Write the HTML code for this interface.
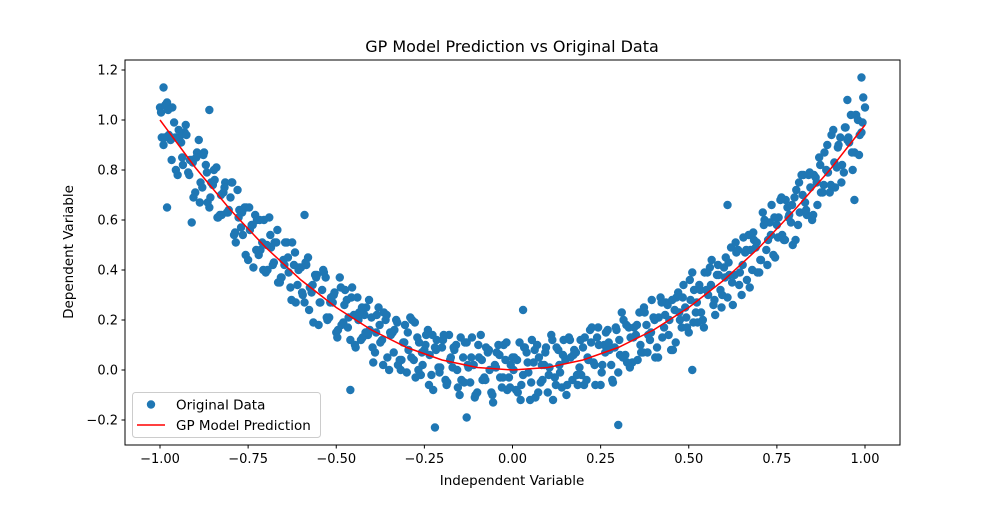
<!DOCTYPE html>
<html><head><meta charset="utf-8"><style>
body{margin:0;background:#fff;position:relative;width:1000px;height:500px;overflow:hidden}
svg text{font-family:"DejaVu Sans","Liberation Sans",sans-serif;fill:#000}
</style></head><body>
<svg id="chart" width="1000" height="500" xmlns="http://www.w3.org/2000/svg">
<rect width="1000" height="500" fill="#fff"/>
<g id="plot"></g>
<g id="axes"></g>
</svg>
<script>
const xTicks=[-1.00,-0.75,-0.50,-0.25,0.00,0.25,0.50,0.75,1.00];
const xTickLabels=["\u22121.00","\u22120.75","\u22120.50","\u22120.25","0.00","0.25","0.50","0.75","1.00"];
const yTicks=[-0.2,0.0,0.2,0.4,0.6,0.8,1.0,1.2];
const yTickLabels=["\u22120.2","0.0","0.2","0.4","0.6","0.8","1.0","1.2"];
const dataA=[[-1.00,1.05],[-0.99,0.90],[-0.98,1.07],[-0.97,0.92],[-0.96,0.99],[-0.95,0.78],[-0.94,0.91],[-0.93,0.95],[-0.92,0.79],[-0.91,0.84],[-0.90,0.71],[-0.89,0.92],[-0.88,0.73],[-0.87,0.82],[-0.86,0.65],[-0.85,0.74],[-0.84,0.81],[-0.83,0.62],[-0.82,0.71],[-0.81,0.63],[-0.80,0.69],[-0.79,0.54],[-0.78,0.72],[-0.77,0.57],[-0.76,0.65],[-0.75,0.44],[-0.74,0.58],[-0.73,0.62],[-0.72,0.46],[-0.71,0.51],[-0.70,0.39],[-0.69,0.61],[-0.68,0.42],[-0.67,0.51],[-0.66,0.35],[-0.65,0.44],[-0.64,0.51],[-0.63,0.33],[-0.62,0.42],[-0.61,0.34],[-0.60,0.41],[-0.59,0.27],[-0.58,0.45],[-0.57,0.31],[-0.56,0.38],[-0.55,0.18],[-0.54,0.32],[-0.53,0.37],[-0.52,0.21],[-0.51,0.27],[-0.50,0.15],[-0.49,0.37],[-0.48,0.19],[-0.47,0.28],[-0.46,0.12],[-0.45,0.22],[-0.44,0.29],[-0.43,0.12],[-0.42,0.22],[-0.41,0.14],[-0.40,0.21],[-0.39,0.07],[-0.38,0.25],[-0.37,0.12],[-0.36,0.20],[-0.35,0.00],[-0.34,0.15],[-0.33,0.20],[-0.32,0.04],[-0.31,0.11],[-0.30,-0.01],[-0.29,0.21],[-0.28,0.04],[-0.27,0.13],[-0.26,-0.02],[-0.25,0.08],[-0.24,0.16],[-0.23,-0.02],[-0.22,0.09],[-0.21,0.01],[-0.20,0.09],[-0.19,-0.04],[-0.18,0.14],[-0.17,0.01],[-0.16,0.10],[-0.15,-0.10],[-0.14,0.05],[-0.13,0.11],[-0.12,-0.05],[-0.11,0.02],[-0.10,-0.09],[-0.09,0.14],[-0.08,-0.03],[-0.07,0.07],[-0.06,-0.09],[-0.05,0.02],[-0.04,0.10],[-0.03,-0.07],[-0.02,0.04],[-0.01,-0.03],[0.00,0.05],[0.01,-0.08],[0.02,0.11],[0.03,-0.02],[0.04,0.07],[0.05,-0.12],[0.06,0.03],[0.07,0.10],[0.08,-0.05],[0.09,0.02],[0.10,-0.09],[0.11,0.14],[0.12,-0.03],[0.13,0.08],[0.14,-0.07],[0.15,0.04],[0.16,0.13],[0.17,-0.04],[0.18,0.07],[0.19,0.01],[0.20,0.09],[0.21,-0.04],[0.22,0.16],[0.23,0.03],[0.24,0.13],[0.25,-0.06],[0.26,0.10],[0.27,0.16],[0.28,0.02],[0.29,0.09],[0.30,-0.01],[0.31,0.23],[0.32,0.06],[0.33,0.17],[0.34,0.03],[0.35,0.14],[0.36,0.23],[0.37,0.07],[0.38,0.18],[0.39,0.12],[0.40,0.21],[0.41,0.09],[0.42,0.29],[0.43,0.17],[0.44,0.26],[0.45,0.08],[0.46,0.24],[0.47,0.31],[0.48,0.17],[0.49,0.25],[0.50,0.15],[0.51,0.39],[0.52,0.23],[0.53,0.34],[0.54,0.20],[0.55,0.32],[0.56,0.41],[0.57,0.26],[0.58,0.38],[0.59,0.32],[0.60,0.41],[0.61,0.29],[0.62,0.49],[0.63,0.38],[0.64,0.48],[0.65,0.30],[0.66,0.47],[0.67,0.54],[0.68,0.40],[0.69,0.49],[0.70,0.39],[0.71,0.63],[0.72,0.48],[0.73,0.59],[0.74,0.46],[0.75,0.58],[0.76,0.68],[0.77,0.52],[0.78,0.65],[0.79,0.59],[0.80,0.69],[0.81,0.58],[0.82,0.78],[0.83,0.67],[0.84,0.78],[0.85,0.60],[0.86,0.77],[0.87,0.85],[0.88,0.71],[0.89,0.80],[0.90,0.71],[0.91,0.96],[0.92,0.81],[0.93,0.93],[0.94,0.79],[0.95,0.92],[0.96,1.02],[0.97,0.87],[0.98,1.00],[0.99,0.95],[1.00,1.05]];
const dataB=[[-0.995,0.93],[-0.985,1.06],[-0.975,0.94],[-0.965,1.05],[-0.955,0.80],[-0.945,0.93],[-0.935,0.82],[-0.925,0.94],[-0.915,0.84],[-0.905,0.69],[-0.895,0.87],[-0.885,0.75],[-0.875,0.87],[-0.865,0.67],[-0.855,0.75],[-0.845,0.76],[-0.835,0.61],[-0.825,0.62],[-0.815,0.75],[-0.805,0.64],[-0.795,0.75],[-0.785,0.51],[-0.775,0.64],[-0.765,0.54],[-0.755,0.65],[-0.745,0.56],[-0.735,0.41],[-0.725,0.60],[-0.715,0.48],[-0.705,0.60],[-0.695,0.40],[-0.685,0.49],[-0.675,0.51],[-0.665,0.35],[-0.655,0.37],[-0.645,0.51],[-0.635,0.39],[-0.625,0.51],[-0.615,0.27],[-0.605,0.41],[-0.595,0.30],[-0.585,0.42],[-0.575,0.33],[-0.565,0.19],[-0.555,0.38],[-0.545,0.27],[-0.535,0.39],[-0.525,0.20],[-0.515,0.29],[-0.505,0.31],[-0.495,0.16],[-0.485,0.18],[-0.475,0.32],[-0.465,0.21],[-0.455,0.33],[-0.445,0.09],[-0.435,0.23],[-0.425,0.13],[-0.415,0.25],[-0.405,0.16],[-0.395,0.03],[-0.385,0.22],[-0.375,0.11],[-0.365,0.23],[-0.355,0.05],[-0.345,0.14],[-0.335,0.16],[-0.325,0.02],[-0.315,0.04],[-0.305,0.18],[-0.295,0.08],[-0.285,0.20],[-0.275,-0.03],[-0.265,0.11],[-0.255,0.02],[-0.245,0.14],[-0.235,0.06],[-0.225,-0.08],[-0.215,0.12],[-0.205,0.01],[-0.195,0.14],[-0.185,-0.05],[-0.175,0.05],[-0.165,0.08],[-0.155,-0.07],[-0.145,-0.04],[-0.135,0.11],[-0.125,0.01],[-0.115,0.13],[-0.105,-0.10],[-0.095,0.05],[-0.085,-0.04],[-0.075,0.09],[-0.065,0.00],[-0.055,-0.13],[-0.045,0.07],[-0.035,-0.03],[-0.025,0.10],[-0.015,-0.08],[-0.005,0.02],[0.005,0.05],[0.015,-0.09],[0.025,-0.06],[0.035,0.09],[0.045,-0.01],[0.055,0.12],[0.065,-0.11],[0.075,0.05],[0.085,-0.04],[0.095,0.09],[0.105,0.01],[0.115,-0.12],[0.125,0.09],[0.135,-0.01],[0.145,0.12],[0.155,-0.06],[0.165,0.05],[0.175,0.08],[0.185,-0.06],[0.195,-0.02],[0.205,0.13],[0.215,0.04],[0.225,0.17],[0.235,-0.06],[0.245,0.10],[0.255,0.02],[0.265,0.15],[0.275,0.08],[0.285,-0.05],[0.295,0.16],[0.305,0.06],[0.315,0.20],[0.325,0.03],[0.335,0.13],[0.345,0.17],[0.355,0.04],[0.365,0.07],[0.375,0.23],[0.385,0.14],[0.395,0.28],[0.405,0.05],[0.415,0.21],[0.425,0.13],[0.435,0.27],[0.445,0.20],[0.455,0.08],[0.465,0.29],[0.475,0.20],[0.485,0.34],[0.495,0.17],[0.505,0.28],[0.515,0.32],[0.525,0.19],[0.535,0.23],[0.545,0.39],[0.555,0.30],[0.565,0.44],[0.575,0.22],[0.585,0.38],[0.595,0.30],[0.605,0.45],[0.615,0.38],[0.625,0.26],[0.635,0.47],[0.645,0.39],[0.655,0.53],[0.665,0.36],[0.675,0.48],[0.685,0.52],[0.695,0.39],[0.705,0.44],[0.715,0.60],[0.725,0.52],[0.735,0.66],[0.745,0.45],[0.755,0.61],[0.765,0.54],[0.775,0.68],[0.785,0.62],[0.795,0.50],[0.805,0.72],[0.815,0.63],[0.825,0.78],[0.835,0.62],[0.845,0.73],[0.855,0.78],[0.865,0.66],[0.875,0.71],[0.885,0.87],[0.895,0.79],[0.905,0.94],[0.915,0.73],[0.925,0.90],[0.935,0.82],[0.945,0.97],[0.955,0.91],[0.965,0.80],[0.975,1.02],[0.985,0.94],[0.995,1.09]];
const dataC=[[-0.997,1.03],[-0.987,0.93],[-0.977,1.04],[-0.967,0.84],[-0.957,0.93],[-0.947,0.96],[-0.937,0.85],[-0.927,0.98],[-0.917,0.78],[-0.907,0.83],[-0.897,0.85],[-0.887,0.67],[-0.877,0.86],[-0.867,0.79],[-0.857,0.69],[-0.847,0.80],[-0.837,0.61],[-0.827,0.70],[-0.817,0.73],[-0.807,0.63],[-0.797,0.75],[-0.787,0.55],[-0.777,0.61],[-0.767,0.63],[-0.757,0.46],[-0.747,0.65],[-0.737,0.58],[-0.727,0.48],[-0.717,0.60],[-0.707,0.40],[-0.697,0.50],[-0.687,0.54],[-0.677,0.43],[-0.667,0.56],[-0.657,0.37],[-0.647,0.42],[-0.637,0.45],[-0.627,0.28],[-0.617,0.47],[-0.607,0.40],[-0.597,0.31],[-0.587,0.43],[-0.577,0.24],[-0.567,0.34],[-0.557,0.37],[-0.547,0.27],[-0.537,0.40],[-0.527,0.21],[-0.517,0.27],[-0.507,0.30],[-0.497,0.13],[-0.487,0.33],[-0.477,0.26],[-0.467,0.17],[-0.457,0.29],[-0.447,0.10],[-0.437,0.20],[-0.427,0.25],[-0.417,0.15],[-0.407,0.28],[-0.397,0.09],[-0.387,0.15],[-0.377,0.18],[-0.367,0.02],[-0.357,0.22],[-0.347,0.15],[-0.337,0.07],[-0.327,0.19],[-0.317,0.00],[-0.307,0.11],[-0.297,0.15],[-0.287,0.05],[-0.277,0.19],[-0.267,0.00],[-0.257,0.07],[-0.247,0.10],[-0.237,-0.06],[-0.227,0.14],[-0.217,0.08],[-0.207,-0.01],[-0.197,0.12],[-0.187,-0.06],[-0.177,0.04],[-0.167,0.09],[-0.157,0.00],[-0.147,0.13],[-0.137,-0.05],[-0.127,0.02],[-0.117,0.05],[-0.107,-0.11],[-0.097,0.10],[-0.087,0.04],[-0.077,-0.04],[-0.067,0.08],[-0.057,-0.10],[-0.047,0.01],[-0.037,0.06],[-0.027,-0.03],[-0.017,0.11],[-0.007,-0.07],[0.003,0.00],[0.013,0.04],[0.023,-0.12],[0.033,0.09],[0.043,0.03],[0.053,-0.05],[0.063,0.08],[0.073,-0.09],[0.083,0.02],[0.093,0.07],[0.103,-0.02],[0.113,0.12],[0.123,-0.06],[0.133,0.02],[0.143,0.06],[0.153,-0.10],[0.163,0.12],[0.173,0.06],[0.183,-0.02],[0.193,0.12],[0.203,-0.06],[0.213,0.05],[0.223,0.11],[0.233,0.02],[0.243,0.17],[0.253,-0.01],[0.263,0.07],[0.273,0.11],[0.283,-0.04],[0.293,0.17],[0.303,0.12],[0.313,0.05],[0.323,0.18],[0.333,0.01],[0.343,0.13],[0.353,0.18],[0.363,0.10],[0.373,0.25],[0.383,0.07],[0.393,0.15],[0.403,0.20],[0.413,0.05],[0.423,0.27],[0.433,0.22],[0.443,0.14],[0.453,0.28],[0.463,0.11],[0.473,0.23],[0.483,0.29],[0.493,0.21],[0.503,0.36],[0.513,0.19],[0.523,0.27],[0.533,0.32],[0.543,0.17],[0.553,0.39],[0.563,0.34],[0.573,0.28],[0.583,0.42],[0.593,0.25],[0.603,0.37],[0.613,0.43],[0.623,0.35],[0.633,0.51],[0.643,0.34],[0.653,0.42],[0.663,0.48],[0.673,0.33],[0.683,0.55],[0.693,0.51],[0.703,0.44],[0.713,0.58],[0.723,0.42],[0.733,0.54],[0.743,0.61],[0.753,0.53],[0.763,0.69],[0.773,0.52],[0.783,0.61],[0.793,0.66],[0.803,0.52],[0.813,0.75],[0.823,0.70],[0.833,0.64],[0.843,0.79],[0.853,0.62],[0.863,0.75],[0.873,0.82],[0.883,0.74],[0.893,0.90],[0.903,0.74],[0.913,0.83],[0.923,0.89],[0.933,0.75],[0.943,0.97],[0.953,0.93],[0.963,0.87],[0.973,1.02],[0.983,0.86],[0.993,0.99]];
const outliers=[[-0.99,1.13],[0.99,1.17],[-0.98,0.65],[-0.22,-0.23],[0.30,-0.22],[-0.46,-0.08],[0.51,0.00],[0.61,0.66],[-0.59,0.62],[-0.13,-0.19],[0.03,0.24],[0.97,0.68],[-0.86,1.04],[-0.91,0.59],[0.95,1.08]];
const predX=[-1.0,-0.9,-0.8,-0.7,-0.6,-0.5,-0.4,-0.3,-0.2,-0.1,0.0,0.1,0.2,0.3,0.4,0.5,0.6,0.7,0.8,0.9,1.0];
const predY=[1.00,0.81,0.64,0.49,0.36,0.25,0.16,0.09,0.04,0.01,0.00,0.01,0.04,0.09,0.16,0.25,0.36,0.49,0.64,0.80,0.98];

const L=125,R=900,T=60,B=445;
function xs(v){return 512.5+v*352.5;}
function ys(v){return 370-v*250;}
const NS="http://www.w3.org/2000/svg";
function mk(tag,attrs,parent){const e=document.createElementNS(NS,tag);for(const k in attrs)e.setAttribute(k,attrs[k]);parent.appendChild(e);return e;}
const plot=document.getElementById('plot'),axes=document.getElementById('axes');
[...dataA,...dataB,...dataC,...outliers].forEach(p=>{
  const c=mk('circle',{cx:xs(p[0]),cy:ys(p[1]),r:4.2,fill:'#1f77b4'},plot);
  
  
});
const pl=mk('polyline',{points:predX.map((x,i)=>xs(x)+','+ys(predY[i])).join(' '),fill:'none',stroke:'#ff0000','stroke-width':1.5},plot);


const fr=mk('rect',{x:L,y:T,width:R-L,height:B-T,fill:'none',stroke:'#000','stroke-width':1},axes);


xTicks.forEach((v,i)=>{
  const x=xs(v);
  mk('line',{x1:x,x2:x,y1:B,y2:B+3.5,stroke:'#000'},axes);
  const t=mk('text',{x:x,y:B+18,'text-anchor':'middle','font-size':13},axes);
  t.textContent=xTickLabels[i];
  
  
});
yTicks.forEach((v,i)=>{
  const y=ys(v);
  mk('line',{x1:L-3.5,x2:L,y1:y,y2:y,stroke:'#000'},axes);
  const t=mk('text',{x:L-7,y:y+4.5,'text-anchor':'end','font-size':13},axes);
  t.textContent=yTickLabels[i];
  
  
});
</script>
<svg style="position:absolute;left:0;top:0" width="1000" height="500" xmlns="http://www.w3.org/2000/svg">
<text x="512" y="52" text-anchor="middle" font-size="16">GP Model Prediction vs Original Data</text>
<text x="512" y="485" text-anchor="middle" font-size="13.5">Independent Variable</text>
<text transform="translate(73,252) rotate(-90)" text-anchor="middle" font-size="13.5">Dependent Variable</text>
<g>
<rect x="132.5" y="392.5" width="188" height="45" rx="3" fill="#fff" fill-opacity="0.8" stroke="#ccc"/>
<circle cx="151" cy="404.5" r="4.2" fill="#1f77b4"/>
<text x="176" y="409.5" font-size="13.5">Original Data</text>
<line x1="137" y1="425" x2="165" y2="425" stroke="#ff0000" stroke-width="1.5"/>
<text x="176" y="430" font-size="13.5">GP Model Prediction</text>
</g>
</svg>
</body></html>
